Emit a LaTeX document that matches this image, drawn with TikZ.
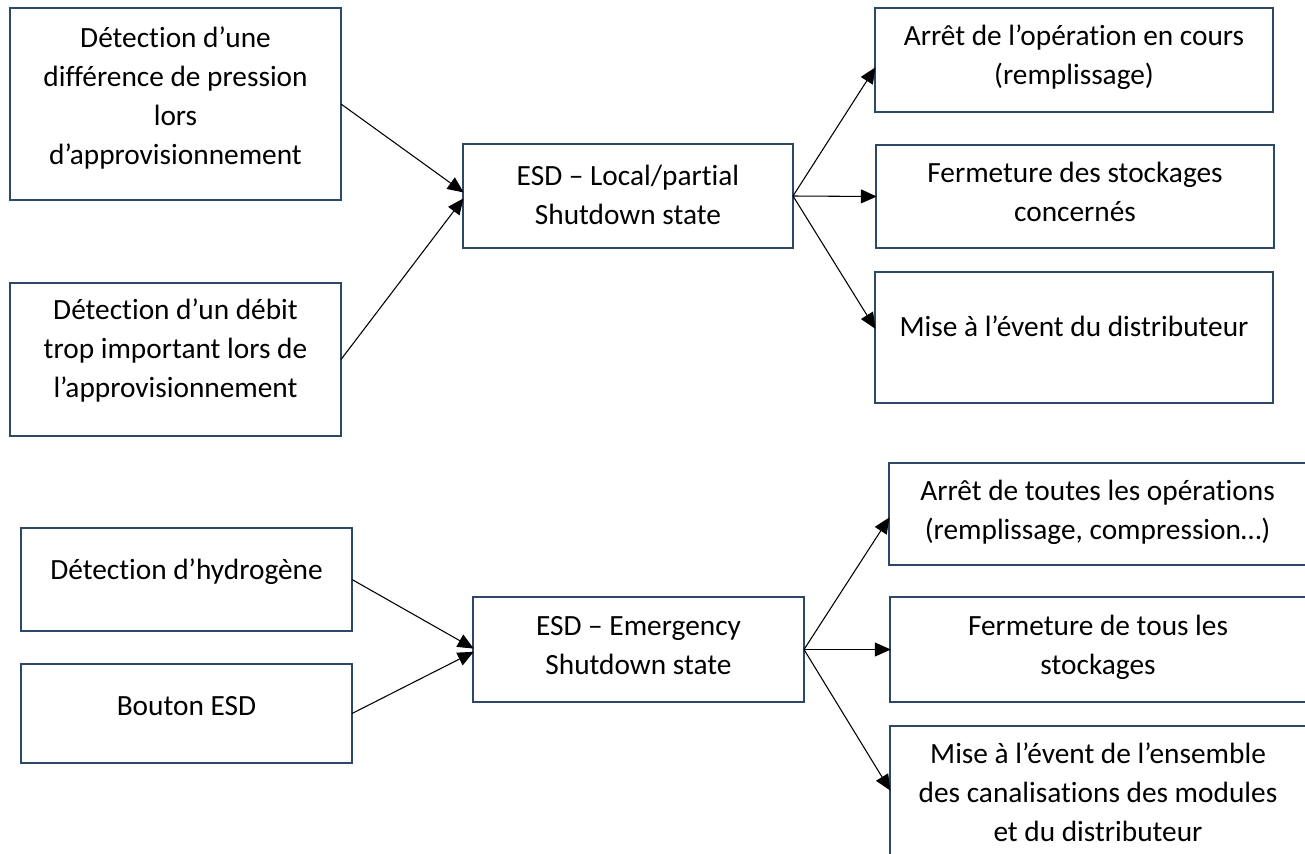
\documentclass[tikz,border=0pt]{standalone}
\usepackage{fontspec}
\setmainfont{Carlito}[Ligatures={NoCommon}]
\usetikzlibrary{arrows.meta}
\definecolor{boxline}{HTML}{2D4866}
\begin{document}
\begin{tikzpicture}[x=0.75pt,y=-0.75pt,
  box/.style={draw=boxline,line width=1.6pt,fill=white,inner sep=0pt,outer sep=0pt},
  txt/.style={align=center,inner sep=0pt,
    font=\fontsize{22pt}{29.25pt}\selectfont,
    execute at begin node=\strut,execute at end node=\strut},
  link/.style={draw=black,line width=0.8pt,
    -{Triangle[length=12pt,width=10.5pt]},shorten >=-0.6pt}]
\useasboundingbox (0,0) rectangle (1305,853);
\clip (0,0) rectangle (1305,853);
\fill[white] (0,0) rectangle (1305,853);

% --- local / partial shutdown ---
\node[box,minimum width=248.25pt,minimum height=144pt] (b1) at (175.5,104) {};
\node[txt] (t1) at (175.5,102) {Détection d’une\\différence de pression\\lors\\d’approvisionnement};
\node[box,minimum width=248.25pt,minimum height=114.75pt] (b2) at (175.5,359.5) {};
\node[txt] (t2) at (175.5,354) {Détection d’un débit\\trop important lors de\\l’approvisionnement};
\node[box,minimum width=247.5pt,minimum height=78pt] (e1) at (628,196) {};
\node[txt] (te1) at (628,200.5) {ESD – Local/partial\\Shutdown state};
\node[box,minimum width=298.5pt,minimum height=78pt] (r1) at (1074,60) {};
\node[txt] (tr1) at (1074,61) {Arrêt de l’opération en cours\\(remplissage)};
\node[box,minimum width=298.5pt,minimum height=77.25pt] (r2) at (1075,196.5) {};
\node[txt] (tr2) at (1075,198) {Fermeture des stockages\\concernés};
\node[box,minimum width=298.5pt,minimum height=98.25pt] (r3) at (1074,337.5) {};
\node[txt] (tr3) at (1074,329) {Mise à l’évent du distributeur};

% --- emergency shutdown ---
\node[box,minimum width=248.25pt,minimum height=77.25pt] (h) at (186.5,579.5) {};
\node[txt] (th) at (186.5,572) {Détection d’hydrogène};
\node[box,minimum width=248.25pt,minimum height=74.25pt] (bt) at (186.5,713.5) {};
\node[txt] (tbt) at (186.5,708) {Bouton ESD};
\node[box,minimum width=248.25pt,minimum height=78.75pt] (e2) at (638.5,649.5) {};
\node[txt] (te2) at (638.5,651) {ESD – Emergency\\Shutdown state};
\node[box,minimum width=312.75pt,minimum height=76.5pt] (r4) at (1097.5,514) {};
\node[txt] (tr4) at (1097.5,516) {Arrêt de toutes les opérations\\(remplissage, compression…)};
\node[box,minimum width=312pt,minimum height=78.75pt] (r5) at (1098,649.5) {};
\node[txt] (tr5) at (1098,650.5) {Fermeture de tous les\\stockages};
\node[box,minimum width=312pt,minimum height=105pt] (r6) at (1098,796) {};
\node[txt] (tr6) at (1098,798) {Mise à l’évent de l’ensemble\\des canalisations des modules\\et du distributeur};

% --- connectors ---
\draw[link] (b1.east) -- ([yshift=3pt]e1.west);
\draw[link] (b2.east) -- ([yshift=-2.25pt]e1.west);
\draw[link] (e1.east) -- ([yshift=-6pt]r1.west);
\draw[link] (e1.east) -- (r2.west);
\draw[link] (e1.east) -- ([yshift=7pt]r3.west);

\draw[link] (h.east) -- ([yshift=1pt]e2.west);
\draw[link] (bt.east) -- ([yshift=-2pt]e2.west);
\draw[link] (e2.east) -- ([yshift=-3pt]r4.west);
\draw[link] (e2.east) -- (r5.west);
\draw[link] (e2.east) -- ([yshift=4.5pt]r6.west);
\end{tikzpicture}
\end{document}
